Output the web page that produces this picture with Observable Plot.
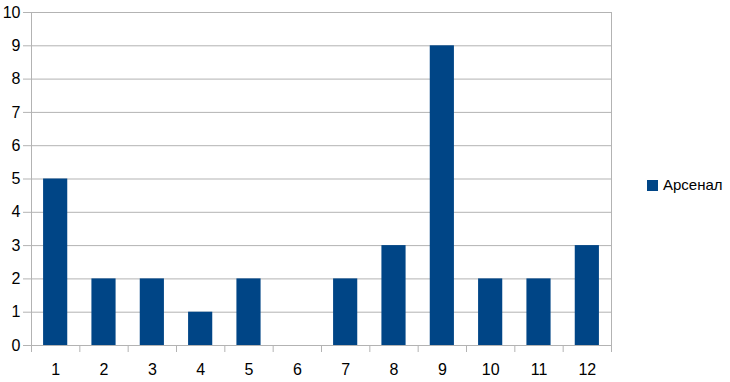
<!DOCTYPE html>
<html>
<head>
<meta charset="utf-8">
<script src="https://cdn.jsdelivr.net/npm/d3@7"></script>
<script src="https://cdn.jsdelivr.net/npm/@observablehq/plot@0.6"></script>
<style>
  html, body { margin: 0; padding: 0; background: #fff; }
  #wrap { position: relative; width: 730px; height: 382px; font-family: "Liberation Sans", Arial, sans-serif; }
  #legend { position: absolute; left: 647px; top: 176px; display: flex; align-items: center; font-size: 15px; line-height: 18px; color: #000; }
  #legend .sw { width: 11px; height: 11px; background: #004586; margin-right: 5px; }
</style>
</head>
<body>
<div id="wrap"></div>
<script>
const categories = [1, 2, 3, 4, 5, 6, 7, 8, 9, 10, 11, 12];
const values = [5, 2, 2, 1, 2, 0, 2, 3, 9, 2, 2, 3];
const seriesName = "Арсенал";
const yTicks = [0, 1, 2, 3, 4, 5, 6, 7, 8, 9, 10];
const color = "#004586";
const gridColor = "#b3b3b3";

const data = categories.map((c, i) => ({c, v: values[i]}));
const boundaries = [...categories.map(c => c - 0.5), categories[categories.length - 1] + 0.5];

const chart = Plot.plot({
  width: 730,
  height: 382,
  marginLeft: 31,
  marginRight: 119,
  marginTop: 12,
  marginBottom: 37,
  style: {fontFamily: "'Liberation Sans', Arial, sans-serif", fontSize: "16px", background: "#fff", color: "#000"},
  x: {domain: [0.5, 12.5]},
  y: {domain: [0, 10]},
  marks: [
    Plot.gridY(yTicks, {stroke: gridColor, strokeOpacity: 1}),
    Plot.rectY(data, {x1: d => d.c - 0.25, x2: d => d.c + 0.25, y: "v", fill: color}),
    Plot.ruleX([boundaries[0], boundaries[boundaries.length - 1]], {stroke: gridColor}),
    Plot.ruleY([0], {stroke: gridColor}),
    Plot.axisY(yTicks, {tickSize: 8, tickPadding: 3, stroke: gridColor, fill: "#000", fontSize: 16, label: null}),
    Plot.axisX(boundaries, {tickSize: 7, tickFormat: () => "", stroke: gridColor, label: null}),
    Plot.axisX(categories, {tickSize: 0, tickPadding: 18, fill: "#000", fontSize: 16, label: null})
  ]
});

const wrap = document.getElementById("wrap");
wrap.appendChild(chart);
const legend = document.createElement("div");
legend.id = "legend";
legend.innerHTML = `<span class="sw"></span><span>${seriesName}</span>`;
wrap.appendChild(legend);
</script>
</body>
</html>
